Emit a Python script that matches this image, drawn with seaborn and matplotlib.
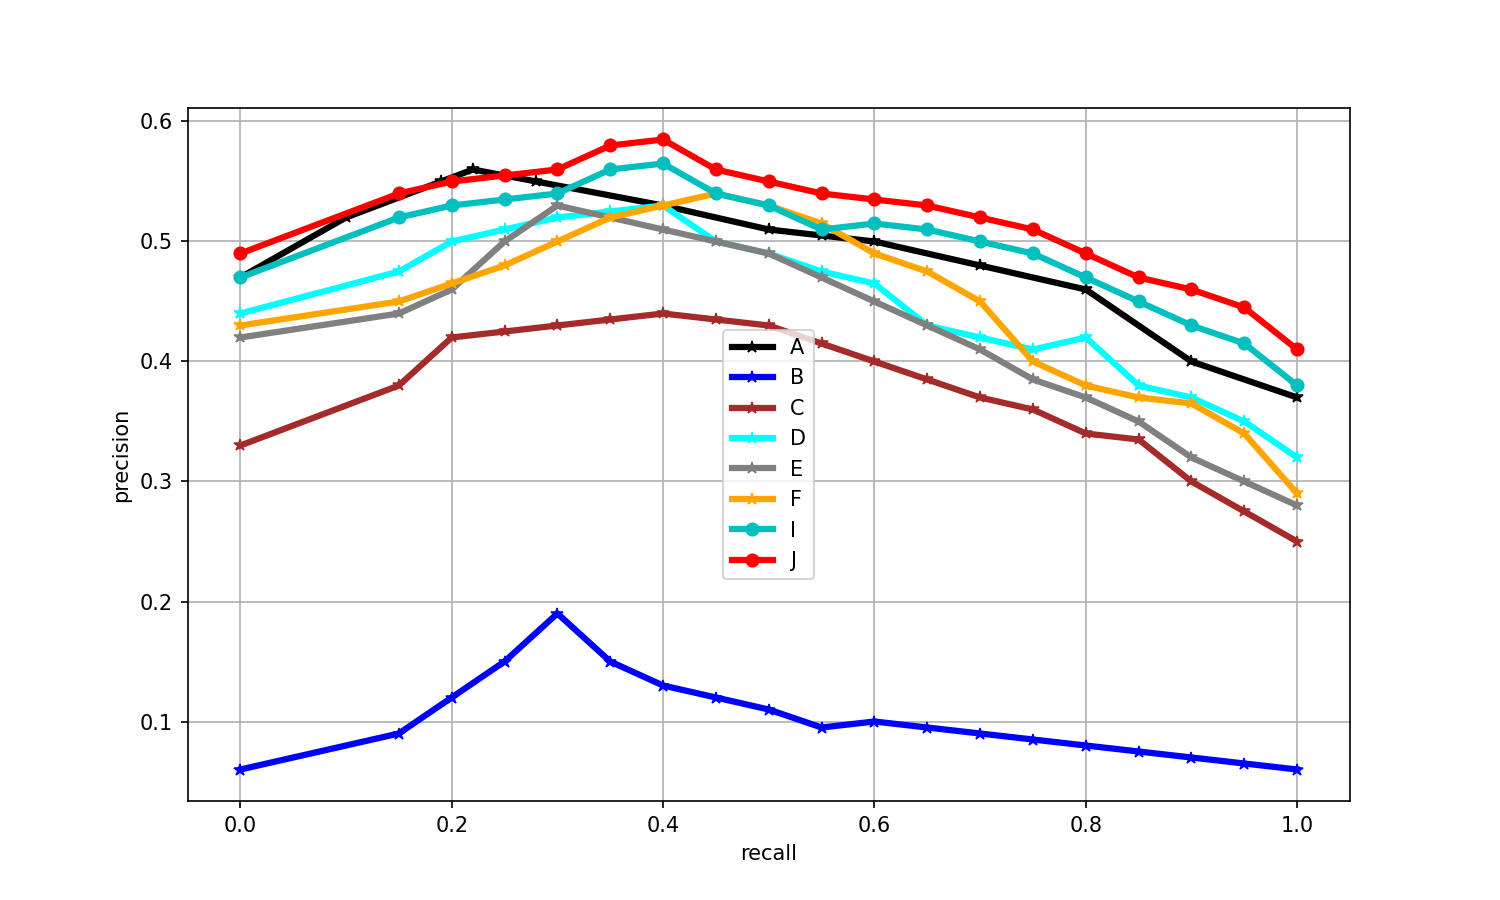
import numpy as np
import pandas as pd
import matplotlib
matplotlib.use("Agg")
import matplotlib.pyplot as plt
import seaborn as sns

# recall points
recall = [0.0, 0.15, 0.2, 0.25, 0.3, 0.35, 0.4, 0.45, 0.5, 0.55,
          0.6, 0.65, 0.7, 0.75, 0.8, 0.85, 0.9, 0.95, 1.0]
recall_a = [0.0, 0.1, 0.19, 0.22, 0.28, 0.4, 0.5, 0.55, 0.6, 0.7, 0.8, 0.9, 1.0]

# precision per method
prec_a = [0.47, 0.52, 0.55, 0.56, 0.55, 0.53, 0.51, 0.505, 0.50, 0.48, 0.46, 0.40, 0.37]
prec_b = [0.06, 0.09, 0.12, 0.15, 0.19, 0.15, 0.13, 0.12, 0.11, 0.095,
          0.10, 0.095, 0.09, 0.085, 0.08, 0.075, 0.07, 0.065, 0.06]
prec_c = [0.33, 0.38, 0.42, 0.425, 0.43, 0.435, 0.44, 0.435, 0.43, 0.415,
          0.40, 0.385, 0.37, 0.36, 0.34, 0.335, 0.30, 0.275, 0.25]
prec_d = [0.44, 0.475, 0.50, 0.51, 0.52, 0.525, 0.53, 0.50, 0.49, 0.475,
          0.465, 0.43, 0.42, 0.41, 0.42, 0.38, 0.37, 0.35, 0.32]
prec_e = [0.42, 0.44, 0.46, 0.50, 0.53, 0.52, 0.51, 0.50, 0.49, 0.47,
          0.45, 0.43, 0.41, 0.385, 0.37, 0.35, 0.32, 0.30, 0.28]
prec_f = [0.43, 0.45, 0.465, 0.48, 0.50, 0.52, 0.53, 0.54, 0.53, 0.515,
          0.49, 0.475, 0.45, 0.40, 0.38, 0.37, 0.365, 0.34, 0.29]
prec_i = [0.47, 0.52, 0.53, 0.535, 0.54, 0.56, 0.565, 0.54, 0.53, 0.51,
          0.515, 0.51, 0.50, 0.49, 0.47, 0.45, 0.43, 0.415, 0.38]
prec_j = [0.49, 0.54, 0.55, 0.555, 0.56, 0.58, 0.585, 0.56, 0.55, 0.54,
          0.535, 0.53, 0.52, 0.51, 0.49, 0.47, 0.46, 0.445, 0.41]

series = [
    ("A", recall_a, prec_a, "black", "*"),
    ("B", recall, prec_b, "blue", "*"),
    ("C", recall, prec_c, "brown", "*"),
    ("D", recall, prec_d, "cyan", "*"),
    ("E", recall, prec_e, "gray", "*"),
    ("F", recall, prec_f, "orange", "*"),
    ("I", recall, prec_i, "c", "o"),
    ("J", recall, prec_j, "red", "o"),
]

fig, ax = plt.subplots(figsize=(10, 6), dpi=150)
for name, xs, ys, col, mk in series:
    df = pd.DataFrame({"recall": xs, "precision": ys})
    sns.lineplot(data=df, x="recall", y="precision", ax=ax, color=col,
                 marker=mk, markersize=6, markeredgecolor=col,
                 linewidth=3, label=name, errorbar=None, sort=False)

ax.grid(True)
ax.set_xlabel("recall")
ax.set_ylabel("precision")
ax.legend(loc="center")
fig.savefig("out.png", dpi=150)
